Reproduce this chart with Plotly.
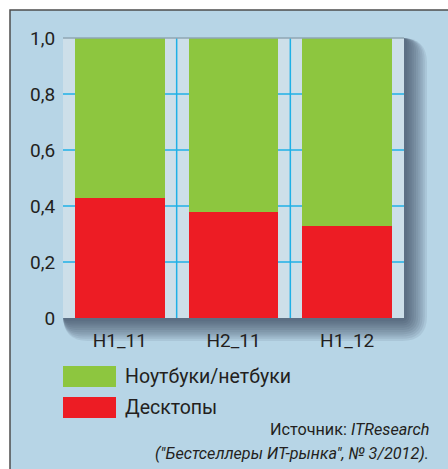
import plotly.graph_objects as go

# Market share by half-year: desktops vs notebooks/netbooks
periods = ["H1_11", "H2_11", "H1_12"]
desktops = [0.43, 0.38, 0.33]
notebooks = [0.57, 0.62, 0.67]
series_names = ["Десктопы", "Ноутбуки/нетбуки"]
y_ticks = [0, 0.2, 0.4, 0.6, 0.8, 1.0]
y_tick_labels = ["0", "0,2", "0,4", "0,6", "0,8", "1,0"]
source_lines = ["Источник: <i>ITResearch</i>", "<i>(\"Бестселлеры ИТ-рынка\", № 3/2012).</i>"]

RED = "#ed1c24"
GREEN = "#8dc63f"
FRAME_BG = "#b7d5e6"
PLOT_BG = "#cddfe9"
GRID = "#1fb0e6"
TEXT = "#231f20"
FONT = "Roboto, Liberation Sans, Arial, sans-serif"

W, H = 448, 469
L, R, T, B = 63, 44, 38, 151
PW = W - L - R
PH = H - T - B


def px(x):
    return (x - L) / PW


def py(y):
    return (H - B - y) / PH


def rounded_rect(x0, y0, x1, y1, r):
    pts = [
        ("M", [(x0 + r, y0)]), ("L", [(x1 - r, y0)]), ("Q", [(x1, y0), (x1, y0 + r)]),
        ("L", [(x1, y1 - r)]), ("Q", [(x1, y1), (x1 - r, y1)]),
        ("L", [(x0 + r, y1)]), ("Q", [(x0, y1), (x0, y1 - r)]),
        ("L", [(x0, y0 + r)]), ("Q", [(x0, y0), (x0 + r, y0)]),
    ]
    out = []
    for cmd, coords in pts:
        out.append(cmd + " ".join(f"{px(a):.5f},{py(b):.5f}" for a, b in coords))
    return " ".join(out) + " Z"


fig = go.Figure()
fig.add_trace(go.Bar(x=periods, y=desktops, name=series_names[0], marker_color=RED,
                     marker_line_width=0, showlegend=False))
fig.add_trace(go.Bar(x=periods, y=notebooks, name=series_names[1], marker_color=GREEN,
                     marker_line_width=0, showlegend=False))

shapes = []
# outer panel with its frame
shapes.append(dict(type="rect", xref="paper", yref="paper", layer="below",
                   x0=px(10), x1=px(470), y0=py(490), y1=py(10),
                   fillcolor=FRAME_BG, line=dict(color="#4d4d4d", width=1.5)))
# soft drop shadow to the right and below the plot area
n = 10
for k in range(n):
    e = 22 * (1 - k / n) + 1
    shapes.append(dict(type="path", xref="paper", yref="paper", layer="below",
                       path=rounded_rect(L, T, L + PW + e, T + PH + e, e + 2),
                       fillcolor="#1f3340", opacity=0.085, line=dict(width=0)))
# plot area
shapes.append(dict(type="rect", xref="paper", yref="paper", layer="below",
                   x0=0, x1=1, y0=0, y1=1, fillcolor=PLOT_BG, line=dict(width=0)))
# grid: horizontal at inner ticks, vertical at category boundaries
for v in y_ticks[1:-1]:
    shapes.append(dict(type="line", xref="paper", yref="y", layer="below",
                       x0=0, x1=1, y0=v, y1=v, line=dict(color=GRID, width=1.5)))
for i in range(len(periods) - 1):
    shapes.append(dict(type="line", xref="x", yref="paper", layer="below",
                       x0=i + 0.5, x1=i + 0.5, y0=0, y1=1, line=dict(color=GRID, width=1.5)))
# top edge of the plot area
shapes.append(dict(type="line", xref="paper", yref="paper", layer="above",
                   x0=0, x1=1, y0=1, y1=1, line=dict(color="#8fa6b3", width=1.5)))

# legend swatches (top-to-bottom: notebooks, desktops)
annotations = []
legend_items = [(series_names[1], GREEN), (series_names[0], RED)]
for j, (name, color) in enumerate(legend_items):
    top = 366 + j * 31
    shapes.append(dict(type="rect", xref="paper", yref="paper", layer="above",
                       x0=px(63), x1=px(116), y0=py(top + 21), y1=py(top),
                       fillcolor=color, line=dict(width=0)))
    annotations.append(dict(xref="paper", yref="paper", x=px(123), y=py(top + 10),
                            xanchor="left", yanchor="middle", showarrow=False, text=name,
                            font=dict(family=FONT, size=19.5, color=TEXT)))

for j, line in enumerate(source_lines):
    annotations.append(dict(xref="paper", yref="paper", x=px(431), y=py(429 + j * 24),
                            xanchor="right", yanchor="middle", showarrow=False, text=line,
                            font=dict(family=FONT, size=16.2, color=TEXT)))

fig.update_layout(
    width=W, height=H,
    margin=dict(l=L, r=R, t=T, b=B, pad=0),
    paper_bgcolor="white",
    plot_bgcolor="rgba(0,0,0,0)",
    barmode="stack",
    bargap=0.21,
    shapes=shapes,
    annotations=annotations,
    font=dict(family=FONT, size=19, color=TEXT),
    xaxis=dict(showgrid=False, zeroline=False, showline=False, ticks="outside",
               ticklen=5, tickcolor="rgba(0,0,0,0)", tickfont=dict(size=19)),
    yaxis=dict(range=[0, 1], tickvals=y_ticks, ticktext=y_tick_labels, showgrid=False,
               zeroline=False, showline=False, ticks="outside", ticklen=3,
               tickcolor="rgba(0,0,0,0)", tickfont=dict(size=19)),
)

fig.write_html("out.html")
